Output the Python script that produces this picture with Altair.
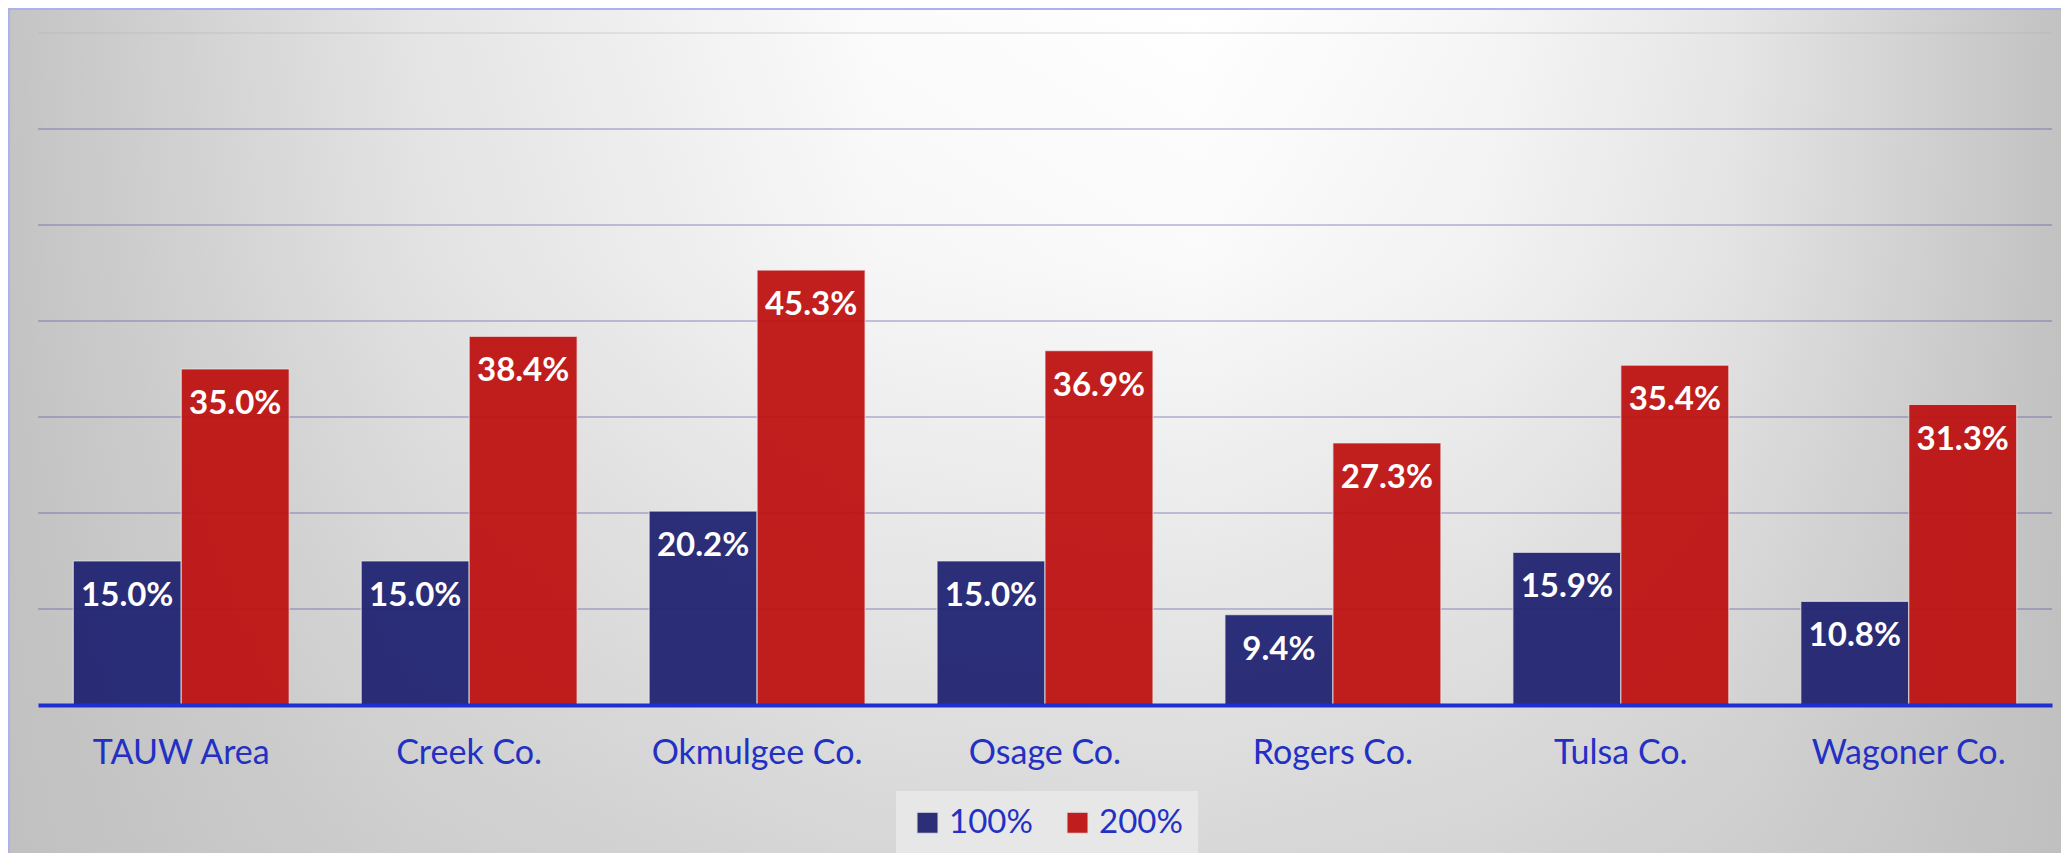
import altair as alt
import pandas as pd

categories = ["TAUW Area", "Creek Co.", "Okmulgee Co.", "Osage Co.", "Rogers Co.", "Tulsa Co.", "Wagoner Co."]
series_names = ["100%", "200%"]
values_100 = [15.0, 15.0, 20.2, 15.0, 9.4, 15.9, 10.8]
values_200 = [35.0, 38.4, 45.3, 36.9, 27.3, 35.4, 31.3]
grid_values = [0.1, 0.2, 0.3, 0.4, 0.5, 0.6, 0.7]

rows = []
for i, c in enumerate(categories):
    rows.append({"cat": c, "series": series_names[0], "v": values_100[i] / 100})
    rows.append({"cat": c, "series": series_names[1], "v": values_200[i] / 100})
df = pd.DataFrame(rows)
grid_df = pd.DataFrame({"v": grid_values})
one = pd.DataFrame({"k": [0]})

W, H = 2014, 672
PL, PT, PR, PB = 30, 25, 9, 148
FONT = "Lato"
TEXT_BLUE = "#2330c4"

yscale = alt.Scale(domain=[0, 0.7], nice=False, zero=True)

bg_h = alt.Chart(one).mark_rect(
    fill={
        "gradient": "linear", "x1": 0, "y1": 0, "x2": 1, "y2": 0,
        "stops": [
            {"offset": 0.0, "color": "#c4c4c4"},
            {"offset": 0.2, "color": "#e5e5e5"},
            {"offset": 0.42, "color": "#fbfbfb"},
            {"offset": 0.58, "color": "#ffffff"},
            {"offset": 0.72, "color": "#f6f6f6"},
            {"offset": 0.84, "color": "#e6e6e6"},
            {"offset": 1.0, "color": "#c2c2c2"},
        ],
    }
).encode(x=alt.value(-PL), x2=alt.value(W + PR), y=alt.value(-PT), y2=alt.value(H + PB))

bg_v = alt.Chart(one).mark_rect(
    fill={
        "gradient": "linear", "x1": 0, "y1": 0, "x2": 0, "y2": 1,
        "stops": [
            {"offset": 0.0, "color": "rgba(190,190,190,0)"},
            {"offset": 0.3, "color": "rgba(190,190,190,0.08)"},
            {"offset": 1.0, "color": "rgba(190,190,190,0.6)"},
        ],
    }
).encode(x=alt.value(-PL), x2=alt.value(W + PR), y=alt.value(-PT), y2=alt.value(H + PB))

border_left = alt.Chart(one).mark_rule(stroke="#aab0f0", strokeWidth=2).encode(
    x=alt.value(-PL + 1), y=alt.value(-PT), y2=alt.value(H + PB)
)
border_top = alt.Chart(one).mark_rule(stroke="#aab0f0", strokeWidth=2).encode(
    y=alt.value(-PT + 1), x=alt.value(-PL), x2=alt.value(W + PR)
)

grid = alt.Chart(grid_df).mark_rule(strokeWidth=2).encode(
    y=alt.Y("v:Q", scale=yscale, axis=None),
    stroke=alt.condition("datum.v >= 0.7", alt.value("#b0b0b0"), alt.value("#4a4aa0")),
    strokeOpacity=alt.condition("datum.v >= 0.7", alt.value(0.25), alt.value(0.3)),
)

base = alt.Chart(df).encode(
    x=alt.X(
        "cat:N", sort=categories,
        scale=alt.Scale(paddingInner=0.25, paddingOuter=0.1225),
        axis=alt.Axis(
            title=None, labelAngle=0, ticks=False, tickSize=0, grid=False,
            domainColor="#1f2ecf", domainWidth=4, zindex=1,
            labelColor=TEXT_BLUE, labelFont=FONT, labelFontSize=34, labelLimit=0,
            labelBaseline="middle", labelPadding=48,
        ),
    ),
    xOffset=alt.XOffset("series:N", sort=series_names, scale=alt.Scale(paddingInner=0, paddingOuter=0)),
)

bars = base.mark_bar(opacity=0.93, stroke="#eeeeee", strokeWidth=1.2, strokeOpacity=0.7).encode(
    y=alt.Y("v:Q", scale=yscale, axis=None),
    color=alt.Color(
        "series:N", sort=series_names,
        scale=alt.Scale(domain=series_names, range=["#1e2170", "#be0f0f"]),
        legend=alt.Legend(
            title=None, orient="none", legendX=858, legendY=758, direction="horizontal",
            symbolType="square", symbolSize=441, symbolStrokeColor="#dddddd", symbolStrokeWidth=1,
            labelFont=FONT, labelFontSize=33, labelColor=TEXT_BLUE,
            fillColor="#e7e7e7", padding=15, columnPadding=28, labelOffset=5,
        ),
    ),
)

labels = base.mark_text(
    font=FONT, fontSize=33, fontWeight="bold", color="white", baseline="middle", dy=35
).encode(
    y=alt.Y("v:Q", scale=yscale, axis=None),
    text=alt.Text("v:Q", format=".1%"),
)

chart = alt.layer(bg_h, bg_v, border_left, border_top, grid, bars, labels).properties(
    width=W, height=H,
    padding={"left": PL, "top": PT, "right": PR, "bottom": PB},
    autosize="none",
    background="#d0d0d0",
).configure_view(stroke=None)

chart.save("out.html", embed_options={"renderer": "svg", "actions": False})
